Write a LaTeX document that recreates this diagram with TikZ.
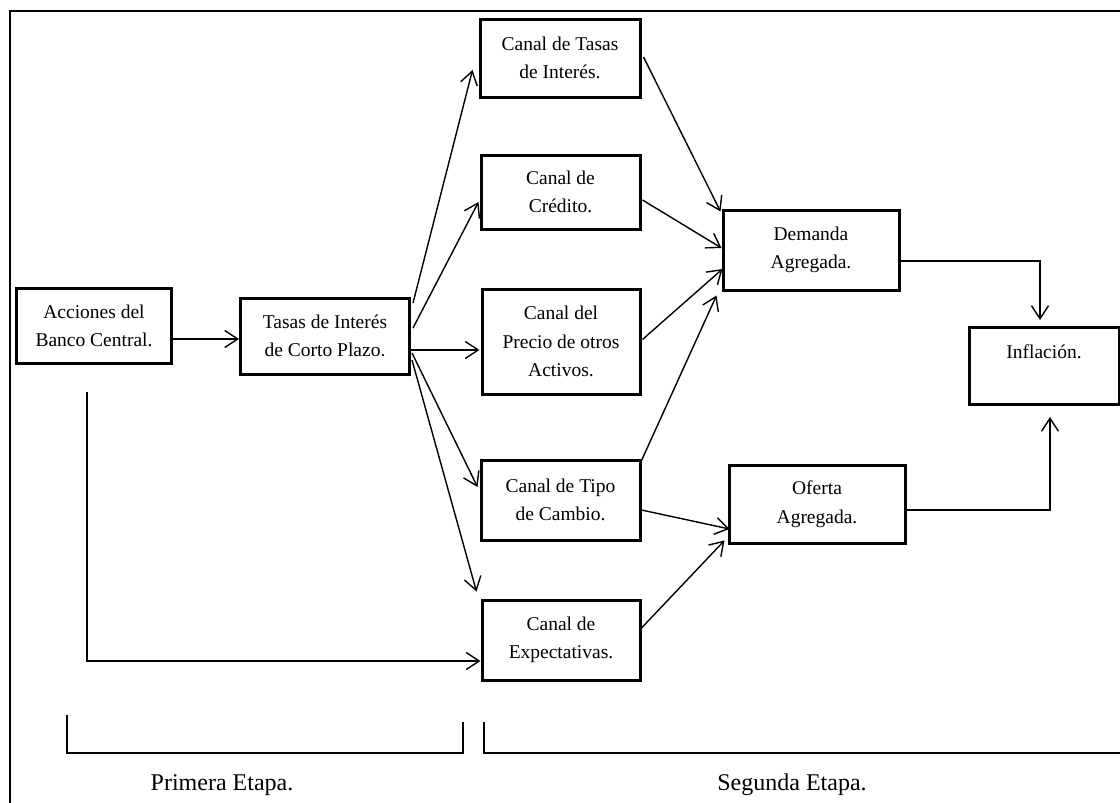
\documentclass[tikz,border=0pt]{standalone}
\usepackage{fontspec}
\setmainfont{Liberation Serif}
\usetikzlibrary{arrows.meta,calc}
\tikzset{
  box/.style={draw, line width=3pt, rectangle, align=center, inner sep=0pt,
              font=\fontsize{19.5}{28.5}\selectfont},
  conn/.style={line width=1.4pt, -{Straight Barb[length=13pt,width=17pt]}},
  plain/.style={line width=1.7pt},
  etapa/.style={font=\fontsize{24}{28}\selectfont, inner sep=0pt}
}
\begin{document}
\begin{tikzpicture}[x=1pt,y=-1pt]
\useasboundingbox (0,0) rectangle (1120,803);
\clip (0,0) rectangle (1120,803);
% outer frame
\draw[line width=2pt] (10,1000) -- (10,11) -- (1200,11);

% boxes
\node[box, minimum width=155, minimum height=75] (acc) at (94,326) {Acciones del\\Banco Central.};
\node[box, minimum width=169, minimum height=76] (tasas) at (325,336) {Tasas de Interés\\de Corto Plazo.};
\node[box, minimum width=160, minimum height=78] (ctasas) at (560,58) {Canal de Tasas\\de Interés.};
\node[box, minimum width=159, minimum height=74] (ccred) at (560.5,192) {Canal de\\Crédito.};
\node[box, minimum width=158, minimum height=105] (cprecio) at (561,341.5) {Canal del\\Precio de otros\\Activos.};
\node[box, minimum width=159, minimum height=80] (ctipo) at (560.5,500) {Canal de Tipo\\de Cambio.};
\node[box, minimum width=158, minimum height=80] (cexp) at (561,640) {Canal de\\Expectativas.};
\node[box, minimum width=176, minimum height=80] (dem) at (811,250) {Demanda\\Agregada.};
\node[box, minimum width=150, minimum height=77] (infl) at (1044,366) {Inflación.\\\mbox{}};
\node[box, minimum width=176, minimum height=78] (oferta) at (817,504) {Oferta\\Agregada.};

% first stage
\coordinate (a1) at ($(acc.east)+(0,13)$);
\draw[conn] (a1) -- (tasas.west |- a1);
\draw[conn] ($(acc.south)+(-7,27)$) |- ($(cexp.west)+(0,21)$);

% from tasas to channels
\draw[conn] ($(tasas.east)+(2,-33)$) -- ($(ctasas.west)+(-6,12)$);
\draw[conn] ($(tasas.east)+(2,-8)$) -- ($(ccred.west)+(-1,10)$);
\draw[conn] ($(tasas.east)+(0,14)$) -- ($(cprecio.west)+(-1,8.5)$);
\draw[conn] ($(tasas.east)+(1,17)$) -- ($(ctipo.west)+(-2,-13)$);
\draw[conn] ($(tasas.east)+(1,24)$) -- ($(cexp.north west)+(-4,-7)$);

% channels to demanda
\draw[conn] ($(ctasas.east)+(2,-1)$) -- ($(dem.north west)+(-1,3)$);
\draw[conn] ($(ccred.east)+(1,8)$) -- ($(dem.west)+(0,-2)$);
\draw[conn] ($(cprecio.east)+(1,-2)$) -- ($(dem.west)+(1,19)$);
\draw[conn] ($(ctipo.north east)+(0,2)$) -- ($(dem.south west)+(-5,4)$);

% channels to oferta
\draw[conn] ($(ctipo.east)+(0,10)$) -- ($(oferta.west)+(2,25)$);
\draw[conn] ($(cexp.east)+(0,-12)$) -- ($(oferta.south west)+(-3,-4)$);

% to inflacion
\coordinate (i1) at ($(infl.north)+(-4,-6)$);
\coordinate (i2) at ($(infl.south)+(6,11)$);
\draw[conn] ($(dem.east)+(0,11)$) -| (i1);
\draw[conn] ($(oferta.east)+(0,6)$) -| (i2);

% brackets
\draw[plain] (67,715) -- (67,753) -- (463,753) -- (463,722);
\draw[plain] (484,722) -- (484,753) -- (1200,753);
\node[etapa] (primera) at (222,785) {Primera Etapa.};
\node[etapa] (segunda) at (792,785) {Segunda Etapa.};
\end{tikzpicture}
\end{document}
